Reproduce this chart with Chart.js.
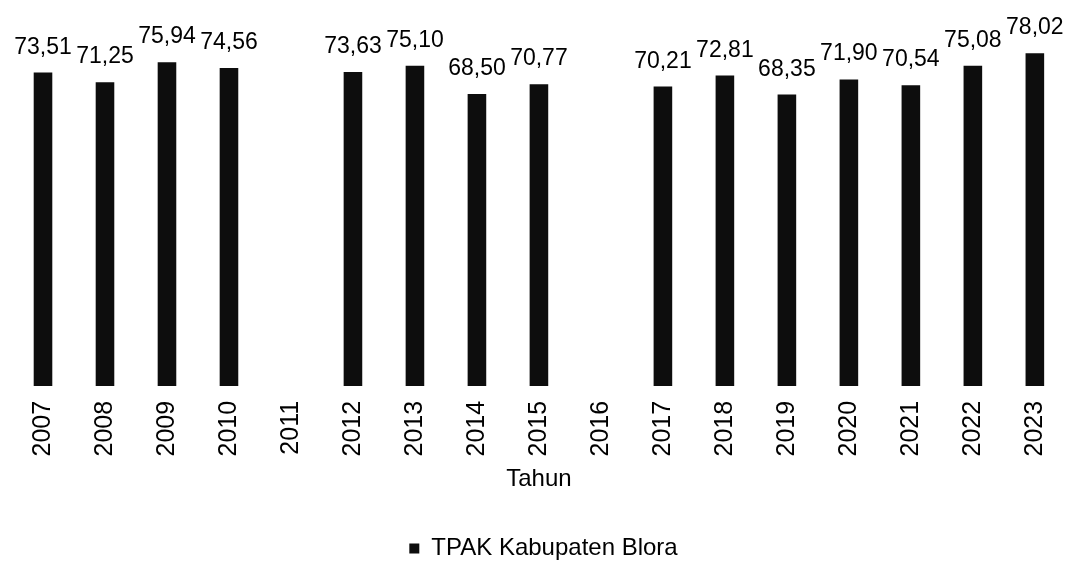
<!DOCTYPE html>
<html lang="id">
<head>
<meta charset="utf-8">
<title>TPAK Kabupaten Blora</title>
<script src="https://cdn.jsdelivr.net/npm/chart.js@4.4.1/dist/chart.umd.min.js"></script>
<style>
  html, body { margin: 0; padding: 0; background: #fff; }
  #wrap { width: 1080px; height: 563px; position: relative; }
</style>
</head>
<body>
<div id="wrap"><canvas id="cTpak"></canvas></div>
<script>
/* TPAK Kabupaten Blora 2007-2023 (2011 dan 2016 tanpa data). */
const tahun = ['2007', '2008', '2009', '2010', '2011', '2012', '2013', '2014', '2015',
  '2016', '2017', '2018', '2019', '2020', '2021', '2022', '2023'];
const tpak = [73.51, 71.25, 75.94, 74.56, null, 73.63, 75.10, 68.50, 70.77,
  null, 70.21, 72.81, 68.35, 71.90, 70.54, 75.08, 78.02];
const namaSeri = 'TPAK Kabupaten Blora';
const judulSumbuX = 'Tahun';

const FONT = '"Liberation Sans", Arial, sans-serif';

// Label nilai di atas tiap batang, desimal pakai koma.
// Teks di gambar asli sedikit memanjang ke bawah, jadi diskalakan vertikal.
const nilaiBatang = {
  id: 'nilaiBatang',
  afterDatasetsDraw(chart) {
    const ctx = chart.ctx;
    const meta = chart.getDatasetMeta(0);
    ctx.save();
    ctx.font = '23px ' + FONT;
    ctx.fillStyle = '#000';
    ctx.textAlign = 'center';
    ctx.textBaseline = 'alphabetic';
    meta.data.forEach((bar, i) => {
      const v = tpak[i];
      if (v === null || v === undefined) return;
      ctx.save();
      ctx.translate(bar.x, bar.y - 19);
      ctx.scale(1, 1.08);
      ctx.fillText(v.toFixed(2).replace('.', ','), 0, 0);
      ctx.restore();
    });
    ctx.restore();
  }
};

new Chart(document.getElementById('cTpak'), {
  type: 'bar',
  data: {
    labels: tahun,
    datasets: [{
      label: namaSeri,
      data: tpak,
      backgroundColor: '#0d0d0d',
      borderWidth: 0,
      barPercentage: 0.6,
      categoryPercentage: 0.5
    }]
  },
  options: {
    responsive: true,
    maintainAspectRatio: false,
    animation: false,
    layout: { padding: { top: 47, left: 12, right: 5, bottom: 0 } },
    scales: {
      x: {
        grid: { display: false, drawTicks: false },
        border: { display: false },
        ticks: {
          color: '#000', font: { family: FONT, size: 25 },
          minRotation: 90, maxRotation: 90, padding: 15, autoSkip: false
        },
        title: {
          display: true, text: judulSumbuX, color: '#000',
          font: { family: FONT, size: 24, lineHeight: 0.5 },
          padding: { top: 2, bottom: 41 }
        }
      },
      y: { display: false, min: 0, max: 79.5 }
    },
    plugins: {
      legend: {
        position: 'bottom',
        maxHeight: 36.5,
        labels: {
          color: '#000', font: { family: FONT, size: 24 },
          boxWidth: 10, boxHeight: 10, padding: 10
        }
      },
      tooltip: { enabled: false }
    }
  },
  plugins: [nilaiBatang]
});
</script>
</body>
</html>
